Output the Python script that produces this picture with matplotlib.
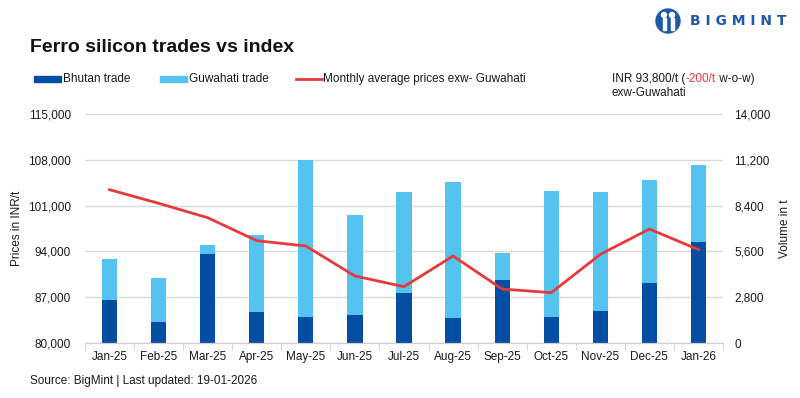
import matplotlib.pyplot as plt
import numpy as np
from matplotlib.patches import Ellipse, Rectangle
from matplotlib.ticker import FuncFormatter

months = ["Jan-25", "Feb-25", "Mar-25", "Apr-25", "May-25", "Jun-25", "Jul-25",
          "Aug-25", "Sep-25", "Oct-25", "Nov-25", "Dec-25", "Jan-26"]
bhutan = [2630, 1280, 5440, 1890, 1590, 1710, 3050, 1530, 3850, 1590, 1960, 3670, 6170]
guwahati = [2500, 2690, 550, 4710, 9590, 6110, 6180, 8310, 1650, 7700, 7270, 6290, 4710]
price = [103430, 101350, 99150, 95640, 94820, 90240, 88610, 93300, 88250, 87690,
         93550, 97420, 94270]

dark = "#034ea2"
light = "#55c3f0"
red = "#e8393a"
txt = "#1a1a1a"

plt.rcParams["font.family"] = ["Liberation Sans", "DejaVu Sans"]

W, H = 800, 398
fig = plt.figure(figsize=(8, 3.98), dpi=100)
ax = fig.add_axes([85 / W, 1 - 343 / H, 638 / W, 229 / H])
ax2 = ax.twinx()
ax.set_zorder(2)
ax.patch.set_visible(False)

x = np.arange(len(months))
w = 0.31
ax2.bar(x, bhutan, w, color=dark, zorder=2)
ax2.bar(x, guwahati, w, bottom=bhutan, color=light, zorder=2)
ax.plot(x, price, color=red, lw=2, zorder=3)

ax.set_xlim(-0.5, len(months) - 0.5)
ax.set_ylim(80000, 115000)
ax.set_yticks(np.arange(80000, 115001, 7000))
ax2.set_ylim(0, 14000)
ax2.set_yticks(np.arange(0, 14001, 2800))
fmt = FuncFormatter(lambda v, p: f"{int(v):,}")
ax.yaxis.set_major_formatter(fmt)
ax2.yaxis.set_major_formatter(fmt)

ax2.set_axisbelow(True)
ax2.grid(axis="y", color="#d9d9d9", lw=1)
for a in (ax, ax2):
    for s in ("top", "left", "right"):
        a.spines[s].set_visible(False)
    a.spines["bottom"].set_color("#d0d0d0")
    a.tick_params(axis="y", length=0, labelsize=8.5, labelcolor=txt)
ax.tick_params(axis="y", pad=10)
ax2.tick_params(axis="y", pad=8)

ax.set_xticks(x)
ax.set_xticklabels(months)
ax.set_xticks(np.arange(-0.5, len(months), 1), minor=True)
ax.tick_params(axis="x", which="major", length=0, labelsize=8.5, labelcolor=txt, pad=6)
ax.tick_params(axis="x", which="minor", length=5, color="#d0d0d0")
ax2.tick_params(axis="x", length=0)

ax.set_ylabel("Prices in INR/t", fontsize=8.5, color=txt, labelpad=4)
ax2.set_ylabel("Volume in t", fontsize=8.5, color=txt, labelpad=6)

fig.text(30 / W, 1 - 47 / H, "Ferro silicon trades vs index", fontsize=14, fontweight="bold",
         color="#111111", va="center")

# legend row
ly = 1 - 79 / H
fig.patches.append(Rectangle((34 / W, ly - 3 / H), 27 / W, 6 / H, color=dark,
                             transform=fig.transFigure))
fig.text(63 / W, ly, "Bhutan trade", fontsize=8.5, va="center", color=txt)
fig.patches.append(Rectangle((160 / W, ly - 3 / H), 27 / W, 6 / H, color=light,
                             transform=fig.transFigure))
fig.text(189 / W, ly, "Guwahati trade", fontsize=8.5, va="center", color=txt)
fig.lines.append(plt.Line2D([296 / W, 322 / W], [ly, ly], color=red, lw=2,
                            transform=fig.transFigure))
fig.text(323 / W, ly, "Monthly average prices exw- Guwahati", fontsize=8.5, va="center",
         color=txt)

# index note
t1 = fig.text(612 / W, ly, "INR 93,800/t (", fontsize=8.5, va="center", color=txt)
fig.canvas.draw()
r = fig.canvas.get_renderer()
bb = t1.get_window_extent(r)
t2 = fig.text(bb.x1 / W, ly, "-200/t", fontsize=8.5, va="center", color=red)
bb2 = t2.get_window_extent(r)
fig.text(bb2.x1 / W, ly, " w-o-w)", fontsize=8.5, va="center", color=txt)
fig.text(612 / W, 1 - 93 / H, "exw-Guwahati", fontsize=8.5, va="center", color=txt)

# logo
logo_c = "#1f5aa6"
cx, cy = 668, 21
fig.patches.append(Ellipse((cx / W, 1 - cy / H), 24 / W, 24 / H, color=logo_c,
                           transform=fig.transFigure))
for dx in (-4, 4):
    fig.patches.append(Ellipse(((cx + dx) / W, 1 - (cy - 6) / H), 5 / W, 5 / H, color="white",
                               transform=fig.transFigure))
    fig.patches.append(Rectangle(((cx + dx - 1.5) / W, 1 - (cy + 9) / H), 3 / W, 12 / H,
                                 color="white", transform=fig.transFigure))
fig.text(690 / W, 1 - 21 / H, "B I G M I N T", fontsize=10, fontweight="bold",
         color=logo_c, va="center", family=["DejaVu Sans"])

fig.text(30 / W, 1 - 381 / H, "Source: BigMint | Last updated: 19-01-2026",
         fontsize=8.5, va="center", color=txt)

fig.savefig("out.png", dpi=100)
